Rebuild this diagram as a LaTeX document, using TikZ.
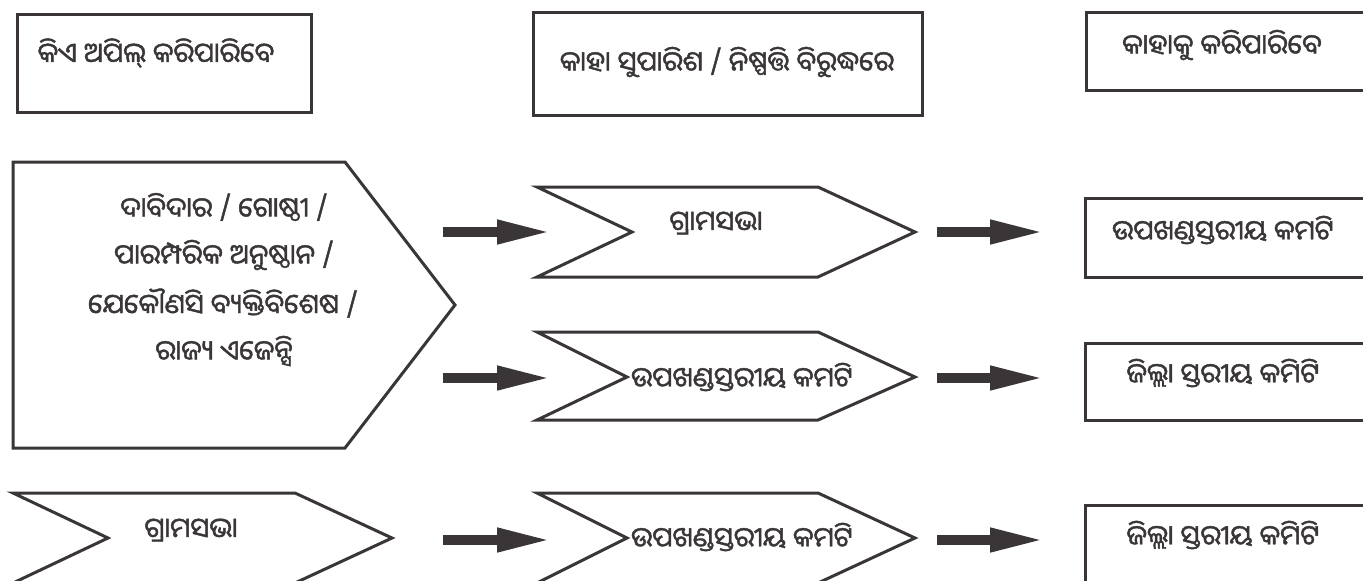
\documentclass[tikz,border=0pt]{standalone}
\usepackage{fontspec}
\newfontfamily\odia[Script=Oriya, FakeBold=1.6]{Noto Sans Oriya UI}
\usetikzlibrary{arrows.meta}
\definecolor{ink}{HTML}{3A3637}
\tikzset{
  shapeline/.style={draw=ink, line width=3pt, line join=miter},
  lbl/.style={font=\odia\fontsize{27.3}{30}\selectfont, text=ink, inner sep=0pt},
  bigarrow/.style={draw=ink, line width=10pt, -{Triangle[length=55pt,width=22pt]}},
}
\begin{document}
\begin{tikzpicture}[x=1pt,y=-1pt]
\useasboundingbox (0,0) rectangle (1363,581);
\clip (0,0) rectangle (1363,581);
% header boxes
\draw[shapeline] (17,14) rectangle (311,112);
\draw[shapeline] (533,12) rectangle (922,115);
\draw[shapeline] (1086,12) rectangle (1380,90);
\node[lbl] (h1) at (156,53) {କିଏ ଅପିଲ୍ କରିପାରିବେ};
\node[lbl] (h2) at (727,62) {କାହା ସୁପାରିଶ / ନିଷ୍ପତ୍ତି ବିରୁଦ୍ଧରେ};
\node[lbl] (h3) at (1222,45) {କାହାକୁ କରିପାରିବେ};
% big pentagon
\draw[shapeline] (13,162) -- (345,162) -- (455,305) -- (345,448) -- (13,448) -- cycle;
\node[lbl] (who1) at (224,207) {ଦାବିଦାର / ଗୋଷ୍ଠୀ /};
\node[lbl] (who2) at (224,255) {ପାରମ୍ପରିକ ଅନୁଷ୍ଠାନ /};
\node[lbl] (who3) at (223,303) {ଯେକୌଣସି ବ୍ୟକ୍ତିବିଶେଷ /};
\node[lbl] (who4) at (224,351) {ରାଜ୍ୟ ଏଜେନ୍ସି};
% row 1
\draw[shapeline] (537,187) -- (818,187) -- (915,232) -- (818,277) -- (537,277) -- (632,232) -- cycle;
\node[lbl] (g1) at (716,223) {ଗ୍ରାମସଭା};
\draw[shapeline] (1085,198) rectangle (1380,277);
\node[lbl] (r1) at (1223,230) {ଉପଖଣ୍ଡସ୍ତରୀୟ କମଟି};
% row 2
\draw[shapeline] (537,332) -- (818,332) -- (915,377) -- (818,420) -- (537,420) -- (627,377) -- cycle;
\node[lbl] (u2) at (742,377) {ଉପଖଣ୍ଡସ୍ତରୀୟ କମଟି};
\draw[shapeline] (1085,343) rectangle (1380,420);
\node[lbl] (r2) at (1223,373) {ଜିଲ୍ଲା ସ୍ତରୀୟ କମିଟି};
% row 3
\draw[shapeline] (13,493) -- (295,493) -- (392,538) -- (295,583) -- (13,583) -- (108,538) -- cycle;
\node[lbl] (g3) at (191,530) {ଗ୍ରାମସଭା};
\draw[shapeline] (537,493) -- (818,493) -- (915,538) -- (818,583) -- (537,583) -- (627,538) -- cycle;
\node[lbl] (u3) at (742,537) {ଉପଖଣ୍ଡସ୍ତରୀୟ କମଟି};
\draw[shapeline] (1085,505) rectangle (1380,600);
\node[lbl] (r3) at (1223,535) {ଜିଲ୍ଲା ସ୍ତରୀୟ କମିଟି};
% arrows
\coordinate (a1s) at (443,232); \coordinate (a1e) at (552,232);
\coordinate (b1s) at (937,232); \coordinate (b1e) at (1045,232);
\coordinate (a2s) at (443,378); \coordinate (a2e) at (552,378);
\coordinate (b2s) at (937,378); \coordinate (b2e) at (1045,378);
\coordinate (a3s) at (443,540); \coordinate (a3e) at (552,540);
\coordinate (b3s) at (937,540); \coordinate (b3e) at (1045,540);
\foreach \s/\e in {a1s/a1e,b1s/b1e,a2s/a2e,b2s/b2e,a3s/a3e,b3s/b3e}
  \draw[bigarrow] (\s) -- (\e);
\end{tikzpicture}
\end{document}
